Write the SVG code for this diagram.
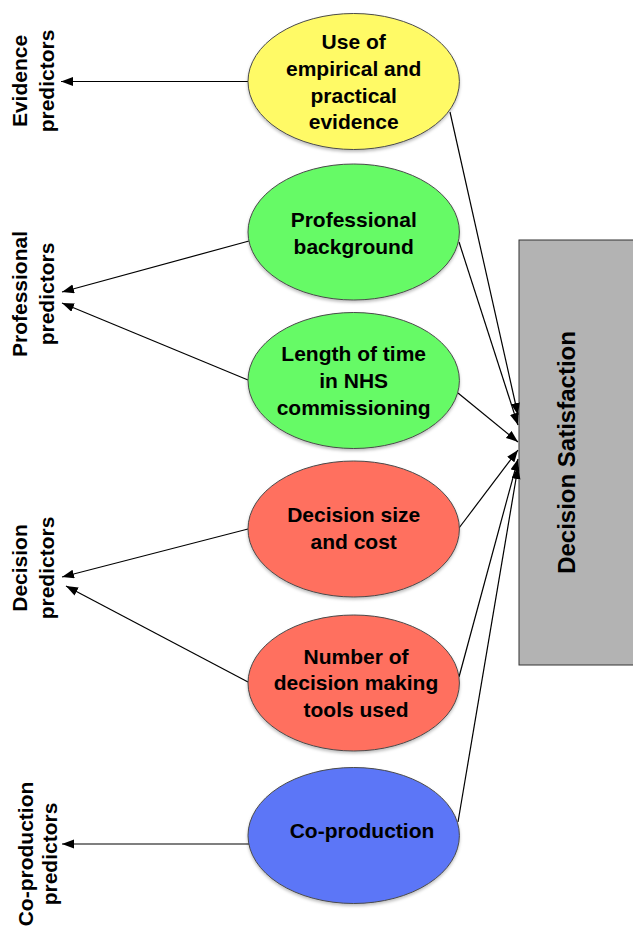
<svg xmlns="http://www.w3.org/2000/svg" width="633" height="928" viewBox="0 0 633 928">
<style>
  .node ellipse { stroke: #4a4a4a; stroke-width: 1; filter: url(#sh); }
  .t { font-family: "Liberation Sans", Arial, Helvetica, sans-serif; font-weight: bold; font-size: 21px; fill: #000; text-anchor: middle; }
  .big { font-size: 24px; }
  .conn line { stroke: #000; stroke-width: 1.2; marker-end: url(#ah); }
  .yellow { fill: #fffa66; }
  .green { fill: #66fa66; }
  .red { fill: #ff6f5f; }
  .blue { fill: #5b76f7; }
</style>
<defs>
  <marker id="ah" markerUnits="userSpaceOnUse" markerWidth="13" markerHeight="10" refX="12" refY="4.5" orient="auto">
    <path d="M0,0 L12,4.5 L0,9 z" fill="#000"/>
  </marker>
  <filter id="sh" x="-10%" y="-10%" width="120%" height="125%">
    <feDropShadow dx="0" dy="2" stdDeviation="1.5" flood-color="#000" flood-opacity="0.25"/>
  </filter>
</defs>
<rect width="633" height="928" fill="#fff"/>

<g id="decision-satisfaction">
  <rect x="519" y="240" width="130" height="425" fill="#b3b3b3" stroke="#333" stroke-width="1"/>
  <text class="t big" transform="translate(575,452.5) rotate(-90)">Decision Satisfaction</text>
</g>

<g id="label-evidence">
  <text class="t" transform="translate(27,81) rotate(-90)">Evidence</text>
  <text class="t" transform="translate(54,81) rotate(-90)">predictors</text>
</g>
<g id="label-professional">
  <text class="t" transform="translate(27,294) rotate(-90)">Professional</text>
  <text class="t" transform="translate(54,294) rotate(-90)">predictors</text>
</g>
<g id="label-decision">
  <text class="t" transform="translate(27,568) rotate(-90)">Decision</text>
  <text class="t" transform="translate(54,568) rotate(-90)">predictors</text>
</g>
<g id="label-coproduction">
  <text class="t" transform="translate(33,854) rotate(-90)">Co-production</text>
  <text class="t" transform="translate(57,854) rotate(-90)">predictors</text>
</g>

<g id="connectors" class="conn">
  <line x1="248" y1="81.5" x2="61" y2="81.5"/>
  <line x1="249" y1="241" x2="62" y2="292"/>
  <line x1="248" y1="380" x2="62" y2="303"/>
  <line x1="248" y1="529" x2="62" y2="577"/>
  <line x1="248" y1="682" x2="66" y2="586"/>
  <line x1="249" y1="844" x2="62" y2="844"/>
  <line x1="450" y1="112" x2="518" y2="415"/>
  <line x1="459" y1="242" x2="518" y2="425"/>
  <line x1="458" y1="393" x2="518" y2="442"/>
  <line x1="459" y1="528" x2="518" y2="450"/>
  <line x1="459" y1="677" x2="518" y2="459"/>
  <line x1="458" y1="822" x2="518" y2="467"/>
</g>

<g id="node-evidence" class="node">
  <ellipse class="yellow" cx="353.7" cy="81.5" rx="105.7" ry="68"/>
  <text class="t" x="353.7" y="49">Use of</text>
  <text class="t" x="353.7" y="76">empirical and</text>
  <text class="t" x="353.7" y="102.5">practical</text>
  <text class="t" x="353.7" y="129">evidence</text>
</g>
<g id="node-professional" class="node">
  <ellipse class="green" cx="353.7" cy="232" rx="105.7" ry="68"/>
  <text class="t" x="353.7" y="227">Professional</text>
  <text class="t" x="353.7" y="254">background</text>
</g>
<g id="node-length" class="node">
  <ellipse class="green" cx="353.7" cy="380.5" rx="105.7" ry="68"/>
  <text class="t" x="353.7" y="361">Length of time</text>
  <text class="t" x="353.7" y="388">in NHS</text>
  <text class="t" x="353.7" y="415">commissioning</text>
</g>
<g id="node-size" class="node">
  <ellipse class="red" cx="353.7" cy="529" rx="105.7" ry="68"/>
  <text class="t" x="353.7" y="522">Decision size</text>
  <text class="t" x="353.7" y="549">and cost</text>
</g>
<g id="node-tools" class="node">
  <ellipse class="red" cx="353.7" cy="683" rx="105.7" ry="68"/>
  <text class="t" x="356" y="664">Number of</text>
  <text class="t" x="356" y="690">decision making</text>
  <text class="t" x="356" y="717">tools used</text>
</g>
<g id="node-coproduction" class="node">
  <ellipse class="blue" cx="353.7" cy="835.5" rx="105.7" ry="68"/>
  <text class="t" x="362" y="838">Co-production</text>
</g>
</svg>
